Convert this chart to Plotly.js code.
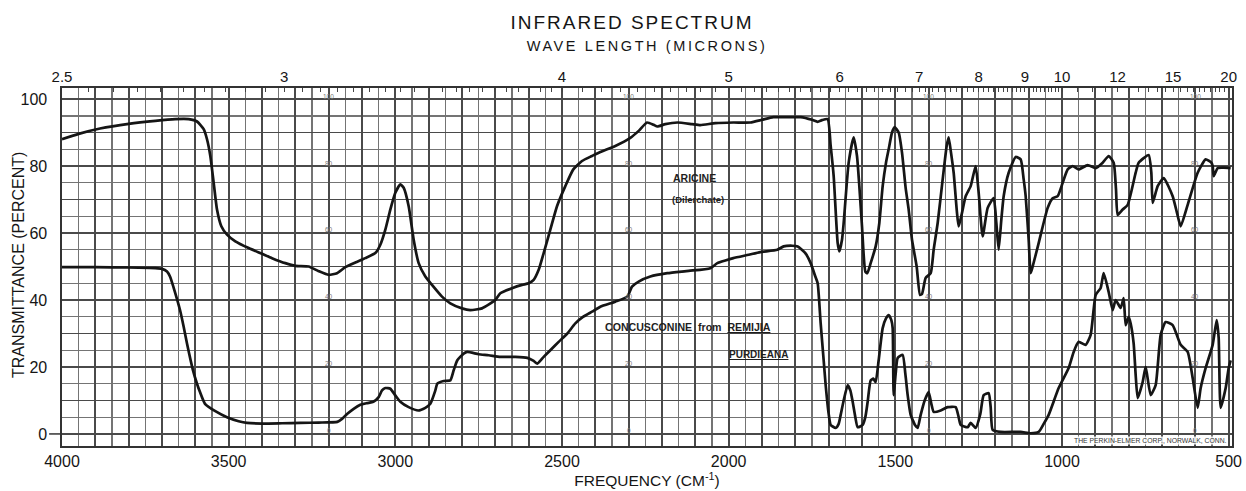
<!DOCTYPE html>
<html>
<head>
<meta charset="utf-8">
<script src="https://cdn.plot.ly/plotly-3.0.1.min.js"></script>
<style>
  html, body { margin: 0; padding: 0; background: #ffffff; }
  #chart { width: 1246px; height: 491px; }
  text.gtitle { letter-spacing: 2px; }
  text.x2title { letter-spacing: 2.6px; }
</style>
</head>
<body>
<div id="chart"></div>
<script>
// Aricine: [wavenumber cm-1, % transmittance]
const aricine = [
  [4000,88],[3950,89.6],[3886,91.2],[3800,92.6],[3720,93.5],[3660,94],[3620,94],[3595,93.3],
  [3575,91],[3565,88],[3555,83],[3545,75],[3535,67],[3522,62],[3505,59.5],[3480,57.5],[3440,55.5],
  [3400,53.8],[3370,52.5],[3330,51],[3300,50.2],[3260,50],[3230,48.6],[3200,47.5],[3175,48],
  [3150,49.8],[3120,51.2],[3090,52.5],[3060,54],[3045,56.5],[3030,61],[3015,67],[3000,72],
  [2985,74.5],[2975,73.5],[2960,68],[2945,58],[2930,51],[2910,47],[2890,44.5],[2860,41],
  [2835,39],[2800,37.5],[2775,37],[2740,37.5],[2700,40],[2685,42],[2650,43.5],[2620,44.5],
  [2600,45],[2585,46],[2570,49],[2555,54],[2535,61],[2515,68],[2490,74],[2466,79],[2440,81.5],
  [2410,83],[2385,84.2],[2340,86],[2295,88.4],[2270,90.5],[2245,93],[2225,92.3],[2214,91.8],
  [2190,92.5],[2154,93],[2110,92.5],[2085,92.2],[2040,92.8],[1986,93],[1935,93],[1900,93.8],
  [1866,94.6],[1820,94.6],[1784,94.6],[1750,93.8],[1733,93.2],[1720,93.7],[1703,94],
  [1694,86],[1685,77],[1673,57],[1668,54.5],[1660,58],[1655,63],[1640,81],[1625,88.6],
  [1615,83],[1608,74],[1600,62],[1590,48.5],[1584,48],[1574,51],[1559,56],[1548,63],[1538,74],
  [1528,81],[1520,85],[1510,90],[1502,91.6],[1490,90],[1480,84],[1469,73.4],[1460,67],[1450,58],
  [1436,50],[1426,41.5],[1420,41.8],[1409,46.6],[1394,48],[1385,55],[1373,63],[1358,76],
  [1346,86],[1340,88.6],[1333,84],[1325,78],[1310,62],[1300,66],[1289,71],[1274,74],[1259,80],
  [1250,72],[1238,59],[1223,67.5],[1205,70.4],[1197,63],[1190,55],[1182,64],[1175,71],
  [1160,78],[1139,82.7],[1124,82],[1115,76],[1109,71],[1100,58],[1094,48],[1088,50],[1070,57],
  [1043,67.5],[1028,70.4],[1013,71],[998,75],[983,79],[968,80],[950,79],[923,80.3],[899,79.4],
  [878,81],[860,83],[845,81],[838,73],[833,65.4],[818,67],[803,68.4],[779,78],[770,81],
  [740,83.3],[732,78],[728,69],[713,74],[695,76.4],[668,71],[655,66],[644,62],[623,68.4],
  [593,78],[569,82],[552,81],[548,80],[545,77],[540,78],[533,79.4],[515,79.5],[494,79.4]
];

// Concuscomine from Remijia purdieana: [wavenumber cm-1, % transmittance]
const concuscomine = [
  [4000,49.8],[3900,49.8],[3800,49.7],[3720,49.5],[3700,49.3],[3685,48.5],[3676,47],[3660,42],
  [3646,37],[3635,32],[3625,27],[3607,19],[3595,15],[3586,12.5],[3571,9],[3540,6.8],[3505,5],
  [3470,3.8],[3445,3.3],[3400,3.1],[3340,3.2],[3285,3.3],[3230,3.4],[3174,3.6],[3160,4.5],
  [3144,6],[3125,7.5],[3105,8.7],[3085,9.2],[3066,9.6],[3050,11],[3040,13],[3030,13.7],
  [3015,13.5],[3000,11.5],[2985,9.6],[2960,8],[2931,7],[2910,7.8],[2895,9],[2880,13],[2874,15],
  [2855,15.8],[2835,16],[2825,19],[2814,22],[2795,24],[2784,24.5],[2750,23.8],[2720,23.5],
  [2685,23],[2640,23],[2604,22.7],[2585,21.8],[2574,21],[2555,23],[2535,25],[2510,27.5],
  [2484,30],[2460,33],[2436,35],[2410,36.5],[2385,38],[2340,39.5],[2304,41],[2290,44],
  [2270,45.5],[2235,47],[2184,48],[2120,48.7],[2055,49.5],[2034,51],[2010,51.8],[1986,52.5],
  [1940,53.5],[1905,54.3],[1854,55],[1835,56],[1810,56.2],[1793,56],[1770,54],[1754,51],
  [1740,47],[1733,45],[1724,33],[1715,22],[1709,14.6],[1700,6],[1694,2.7],[1679,1.8],[1670,3],
  [1664,5.7],[1655,10],[1643,14.6],[1635,13],[1628,9.6],[1620,5],[1613,2],[1598,2.7],[1590,5],
  [1583,9.6],[1574,16],[1566,16.5],[1559,15.5],[1550,22],[1538,31.6],[1528,34.5],[1520,35.5],
  [1512,34],[1508,31.6],[1505,11.6],[1499,18],[1493,22.7],[1478,23.6],[1470,18],[1463,11.6],
  [1454,5.7],[1440,2.5],[1433,1.8],[1424,5.7],[1412,10],[1400,12.5],[1392,9],[1385,6.6],
  [1364,7],[1343,8],[1319,8],[1310,5],[1304,2.7],[1283,2],[1274,3.3],[1259,1.8],[1245,6],
  [1235,11.6],[1220,12.2],[1214,8],[1208,1.2],[1184,0.6],[1124,0.6],[1094,0.2],[1070,0.6],
  [1055,3],[1040,5.7],[1010,13.7],[980,19.7],[965,24.5],[950,27.5],[929,26.6],[914,29.6],
  [899,41.5],[884,43.6],[875,48],[860,42.4],[848,37],[839,40],[824,37.6],[815,40.6],[809,32.5],
  [800,35],[794,33],[785,27],[779,17.6],[773,10.7],[758,15.5],[749,20],[734,11.6],[719,14.6],
  [704,29.6],[689,33.4],[668,32.5],[644,26.6],[623,24.5],[608,16.7],[593,7.8],[584,13.7],
  [569,19.7],[548,26.6],[536,34],[530,28.7],[524,7.8],[509,13.7],[500,19.7],[494,22]
];

// axis labels
const freqLabels = [4000, 3500, 3000, 2500, 2000, 1500, 1000, 500];
const micronLabels = [2.5, 3, 4, 5, 6, 7, 8, 9, 10, 12, 15, 20];
const percentLabels = [0, 20, 40, 60, 80, 100];

// small scale figures printed on the chart paper
const paperColumns = [3200, 2300, 1400, 600];
const paperMarks = [100, 80, 60, 40, 20, 0];

const FONT = 'Liberation Sans, Arial, sans-serif';
const INK = '#151515';
const X_RANGE = [4000, 490];
const Y_RANGE = [-3.6, 103.3];

// frequency grid: heavy rules every 100 cm-1, labels every 500
const freqGrid = [];
for (let f = 4000; f >= 500; f -= 100) freqGrid.push(f);
const freqText = freqGrid.map(f => freqLabels.includes(f) ? String(f) : '');

// percent grid: heavy rules every 10 %, labels every 20
const pctGrid = [];
for (let p = 0; p <= 100; p += 10) pctGrid.push(p);
const pctText = pctGrid.map(p => percentLabels.includes(p) ? String(p) : '');

// wavelength scale along the top (position = 10000 / microns)
const micronMinor = [];
for (let w = 2.55; w < 4; w += 0.05) micronMinor.push(+w.toFixed(2));
for (let w = 4.1; w < 10; w += 0.1) micronMinor.push(+w.toFixed(1));
for (let w = 10.5; w < 20; w += 0.5) micronMinor.push(+w.toFixed(1));
const minorOnly = micronMinor.filter(w => !micronLabels.includes(w));
const topVals = micronLabels.map(w => 10000 / w).concat(minorOnly.map(w => 10000 / w));
const topText = micronLabels.map(String).concat(minorOnly.map(() => ''));

const traceStyle = { color: INK, width: 2.7, shape: 'spline', smoothing: 0.5 };

const traces = [
  {
    x: aricine.map(p => p[0]), y: aricine.map(p => p[1]),
    xaxis: 'x2', yaxis: 'y',
    type: 'scatter', mode: 'lines', line: traceStyle,
    name: 'ARICINE', hoverinfo: 'x+y'
  },
  {
    x: concuscomine.map(p => p[0]), y: concuscomine.map(p => p[1]),
    xaxis: 'x', yaxis: 'y',
    type: 'scatter', mode: 'lines', line: traceStyle,
    name: 'CONCUSCOMINE', hoverinfo: 'x+y'
  }
];

const annotations = [
  { x: 2172, y: 76.4, text: '<b>ARICINE</b>', xanchor: 'left', size: 10.5 },
  { x: 2175, y: 69.9, text: '<b>(Dilerchate)</b>', xanchor: 'left', size: 9.5 },
  { x: 2376, y: 31.9, text: '<b>CONCUSCONINE  from  <u>REMIJIA</u></b>', xanchor: 'left', size: 10.6 },
  { x: 2004, y: 23.6, text: '<b><u>PURDIEANA</u></b>', xanchor: 'left', size: 10 }
].map(a => ({
  x: a.x, y: a.y, xref: 'x', yref: 'y', text: a.text, showarrow: false,
  xanchor: a.xanchor, yanchor: 'middle',
  font: { family: FONT, size: a.size, color: '#1e1e1e' }
}));

paperColumns.forEach(c => paperMarks.forEach(m => annotations.push({
  x: c, y: m + 0.9, xref: 'x', yref: 'y', text: String(m), showarrow: false,
  xanchor: 'center', yanchor: 'middle',
  font: { family: FONT, size: 6.5, color: '#7a7a7a' }
})));

annotations.push({
  x: 503, y: -2.1, xref: 'x', yref: 'y', text: 'THE PERKIN-ELMER CORP., NORWALK, CONN.',
  showarrow: false, xanchor: 'right', yanchor: 'middle', bgcolor: 'rgba(255,255,255,0.85)',
  borderpad: 0, font: { family: FONT, size: 6.8, color: '#333' }
});

// vertical axis caption
annotations.push({
  x: (18 - 62) / 1170, y: (491 - 45 - 265) / 358, xref: 'paper', yref: 'paper',
  text: 'TRANSMITTANCE (PERCENT)', textangle: -90, showarrow: false,
  xanchor: 'center', yanchor: 'middle',
  font: { family: FONT, size: 16, color: INK }
});

const layout = {
  width: 1246, height: 491,
  margin: { l: 62, r: 14, t: 88, b: 45 },
  paper_bgcolor: '#ffffff', plot_bgcolor: '#ffffff',
  showlegend: false,
  title: {
    text: 'INFRARED SPECTRUM', xref: 'container', yref: 'container',
    x: 632 / 1246, y: 1 - 22 / 491, xanchor: 'center', yanchor: 'middle',
    font: { family: FONT, size: 19, color: INK }
  },
  xaxis: {
    range: X_RANGE, tickmode: 'array', tickvals: freqGrid, ticktext: freqText,
    ticks: '', showgrid: true, gridcolor: '#4a4a4a', gridwidth: 1.8,
    minor: { tick0: 0, dtick: 50, showgrid: true, gridcolor: '#747474', gridwidth: 1.4, ticks: '' },
    showline: true, mirror: true, linecolor: '#333', linewidth: 1.6, zeroline: false,
    tickangle: 0,
    tickfont: { family: FONT, size: 16, color: INK },
    title: { text: 'FREQUENCY (CM<sup>-1</sup>)', font: { family: FONT, size: 15.5, color: INK }, standoff: 4 }
  },
  xaxis2: {
    overlaying: 'x', side: 'top', anchor: 'y', range: X_RANGE,
    tickmode: 'array', tickvals: topVals, ticktext: topText,
    ticks: 'inside', ticklen: 4, tickwidth: 1, tickcolor: '#444',
    tickangle: 0, ticklabelstandoff: 2,
    showgrid: false, zeroline: false, showline: false,
    tickfont: { family: FONT, size: 15, color: INK },
    title: { text: 'WAVE LENGTH (MICRONS)', font: { family: FONT, size: 14.5, color: INK }, standoff: 12 }
  },
  yaxis: {
    range: Y_RANGE, tickmode: 'array', tickvals: pctGrid, ticktext: pctText,
    ticks: '', showgrid: true, gridcolor: '#4a4a4a', gridwidth: 1.8,
    minor: { tick0: 0, dtick: 5, showgrid: true, gridcolor: '#747474', gridwidth: 1.4, ticks: '' },
    showline: true, mirror: true, linecolor: '#333', linewidth: 1.6, zeroline: false,
    ticklabelstandoff: 10,
    tickfont: { family: FONT, size: 16, color: INK }
  },
  shapes: [
    { type: 'line', xref: 'paper', yref: 'y', x0: -0.011, x1: 0, y0: 0, y1: 0,
      line: { color: '#333', width: 1.5 } }
  ],
  annotations: annotations
};

Plotly.newPlot('chart', traces, layout, { staticPlot: true, displayModeBar: false });
</script>
</body>
</html>
